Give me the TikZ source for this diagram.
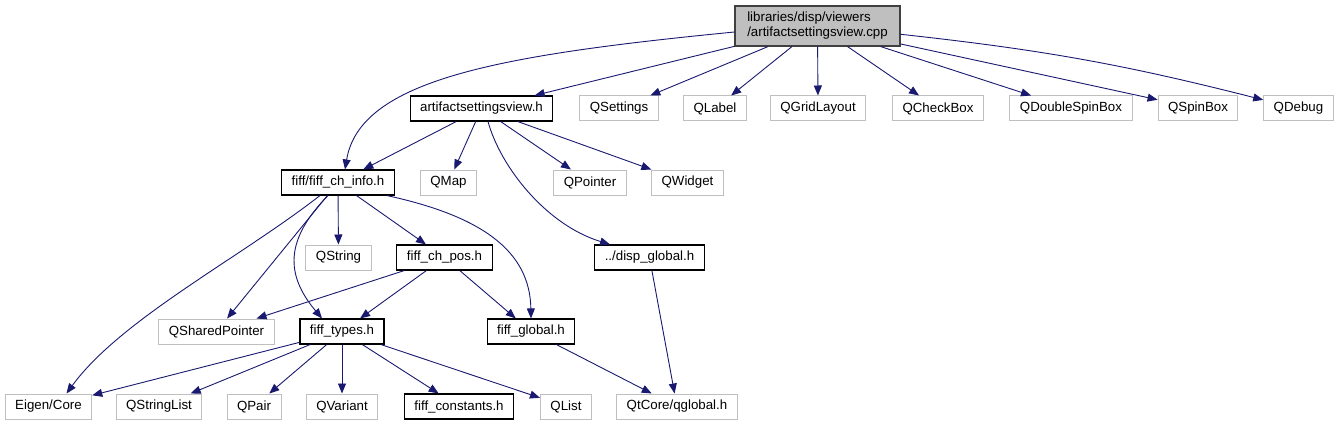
\documentclass[tikz,border=0pt]{standalone}
\usepackage{fontspec}
\setmainfont{Liberation Sans}
\usepackage{xcolor}
\usepackage{tikz}
\usetikzlibrary{arrows.meta, positioning}
\definecolor{edgeblue}{HTML}{191970}
\definecolor{boxgray}{HTML}{BFBFBF}
\definecolor{rootborder}{HTML}{404040}

\begin{document}
\begin{tikzpicture}[
      x=1pt, y=-1pt,
      every node/.style={rectangle, draw, inner xsep=10pt, inner ysep=2pt, minimum height=25pt, font=\fontsize{13.3}{15}\selectfont},
      docnode/.style={draw=black, line width=1.1pt},
      extnode/.style={draw=boxgray, line width=1pt},
      rootnode/.style={draw=rootborder, fill=boxgray, line width=1.1pt, align=left, minimum width=165pt, minimum height=40pt},
      dep/.style={draw=edgeblue, line width=0.9pt, -{Triangle[length=10pt,width=8pt]}}
    ]
      \useasboundingbox (0,0) rectangle (1336,425);

      \node[rootnode] (root) at (817.5,26) {libraries/disp/viewers\\/artifactsettingsview.cpp};

      \node[docnode] (asvh) at (481.5,108.5) {artifactsettingsview.h};
      \node[extnode] (qsettings) at (619,108.5) {QSettings};
      \node[extnode] (qlabel) at (715,108.5) {QLabel};
      \node[extnode] (qgrid) at (818,108.5) {QGridLayout};
      \node[extnode] (qcheck) at (938,108.5) {QCheckBox};
      \node[extnode] (qdspin) at (1071,108.5) {QDoubleSpinBox};
      \node[extnode] (qspin) at (1198,108.5) {QSpinBox};
      \node[extnode] (qdebug) at (1298.5,108.5) {QDebug};

      \node[docnode] (chinfo) at (338,182.5) {fiff/fiff\_ch\_info.h};
      \node[extnode] (qmap) at (448.5,182.5) {QMap};
      \node[extnode] (qpointer) at (590,182.5) {QPointer};
      \node[extnode] (qwidget) at (687.5,182.5) {QWidget};

      \node[extnode] (qstring) at (338.5,257.5) {QString};
      \node[docnode] (chpos) at (444.5,257.5) {fiff\_ch\_pos.h};
      \node[docnode] (dispglobal) at (649.5,257.5) {../disp\_global.h};

      \node[extnode] (qshared) at (216.5,331.5) {QSharedPointer};
      \node[docnode] (fifftypes) at (342,331.5) {fiff\_types.h};
      \node[docnode] (fiffglobal) at (531,331.5) {fiff\_global.h};

      \node[extnode] (eigencore) at (48.5,406.5) {Eigen/Core};
      \node[extnode] (qstringlist) at (159,406.5) {QStringList};
      \node[extnode] (qpair) at (254,406.5) {QPair};
      \node[extnode] (qvariant) at (342,406.5) {QVariant};
      \node[docnode] (fiffconst) at (459,406.5) {fiff\_constants.h};
      \node[extnode] (qlist) at (566,406.5) {QList};
      \node[extnode] (qtglobal) at (677,406.5) {QtCore/qglobal.h};

      \draw[dep] ([yshift=-6pt]root.west) .. controls +(-235,23) and +(15,-90) .. ([xshift=7pt]chinfo.north);
      \draw[dep] (root) -- (asvh);
      \draw[dep] (root) -- (qsettings);
      \draw[dep] (root) -- (qlabel);
      \draw[dep] (root) -- (qgrid);
      \draw[dep] (root) -- (qcheck);
      \draw[dep] (root) -- (qdspin);
      \draw[dep] (root) -- (qspin);
      \draw[dep] (root) to[bend left=4] (qdebug);

      \draw[dep] (asvh) -- (chinfo);
      \draw[dep] (asvh) -- (qmap);
      \draw[dep] (asvh) -- (qpointer);
      \draw[dep] (asvh) -- (qwidget);
      \draw[dep] ([xshift=6.5pt]asvh.south) .. controls +(12,44) and +(-65,-20) .. ([xshift=-39.5pt]dispglobal.north);

      \draw[dep] ([xshift=-18pt]chinfo.south) .. controls +(-81,63) and +(54,-74) .. ([xshift=18pt]eigencore.north);
      \draw[dep] (chinfo) -- (qshared);
      \draw[dep] ([xshift=-10pt]chinfo.south) .. controls +(-43,44) and +(-37,-44) .. ([xshift=-20pt]fifftypes.north);
      \draw[dep] (chinfo) -- (qstring);
      \draw[dep] (chinfo) -- (chpos);
      \draw[dep] ([xshift=-8pt]chinfo.south east) .. controls +(92,20) and +(-1,-69) .. (fiffglobal.north);

      \draw[dep] (chpos) -- (qshared);
      \draw[dep] (chpos) -- (fifftypes);
      \draw[dep] (chpos) -- (fiffglobal);

      \draw[dep] (fifftypes) -- (eigencore);
      \draw[dep] (fifftypes) -- (qstringlist);
      \draw[dep] (fifftypes) -- (qpair);
      \draw[dep] (fifftypes) -- (qvariant);
      \draw[dep] (fifftypes) -- (fiffconst);
      \draw[dep] (fifftypes) -- (qlist);

      \draw[dep] (fiffglobal) -- (qtglobal);
      \draw[dep] (dispglobal) -- (qtglobal);
    \end{tikzpicture}
\end{document}
